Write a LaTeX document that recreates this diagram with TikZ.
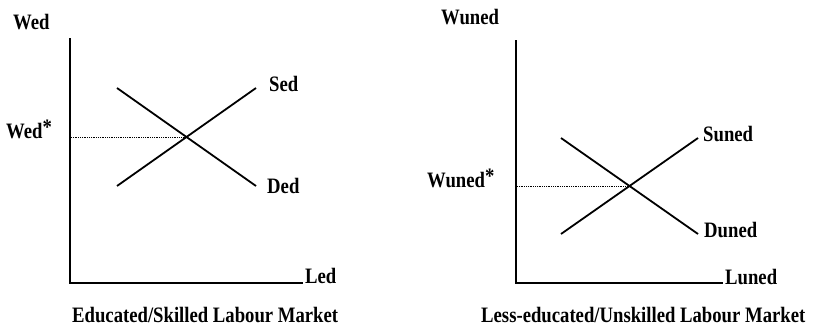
\documentclass[tikz,border=0pt]{standalone}
\usepackage{fontspec}
\setmainfont{Liberation Serif}
\newfontfamily\lblfont{Liberation Serif Bold}[FakeStretch=0.85]
\begin{document}
\begin{tikzpicture}[x=1pt,y=-1pt,
  lbl/.style={anchor=base west,inner sep=0pt,font=\lblfont\fontsize{22}{26}\selectfont},
  axisline/.style={line width=2pt,line cap=rect},
  curve/.style={line width=1.8pt},
  eqline/.style={line width=0.9pt,dash pattern=on 1pt off 0.8pt}]
\useasboundingbox (0,0) rectangle (820,331);
% ---------- left panel ----------
\coordinate (L0) at (70,283);
\coordinate (Ltop) at (70,39);
\coordinate (Lright) at (302,283);
\coordinate (LS1) at (117,186);
\coordinate (LS2) at (256,88);
\coordinate (LD1) at (117,88);
\coordinate (LD2) at (256,186);
\coordinate (LE) at (186.5,137);
\coordinate (LEy) at (71,137);
\draw[axisline] (Ltop) -- (L0) -- (Lright);
\draw[curve] (LS1) -- (LS2);
\draw[curve] (LD1) -- (LD2);
\draw[eqline] (LEy) -- (LE);
\node[lbl] (wed) at (13,30) {Wed};
\node[lbl] (wedstar) at (6,139) {Wed\raisebox{4pt}{*}};
\node[lbl] (sed) at (269,92) {Sed};
\node[lbl] (ded) at (267,194) {Ded};
\node[lbl] (led) at (305,284) {Led};
\node[lbl] (capL) at (72,323) {Educated/Skilled Labour Market};
% ---------- right panel ----------
\coordinate (R0) at (516,283);
\coordinate (Rtop) at (516,41);
\coordinate (Rright) at (722,283);
\coordinate (RS1) at (561,234);
\coordinate (RS2) at (698,138);
\coordinate (RD1) at (561,138);
\coordinate (RD2) at (698,234);
\coordinate (RE) at (629.5,186);
\coordinate (REy) at (517,186);
\draw[axisline] (Rtop) -- (R0) -- (Rright);
\draw[curve] (RS1) -- (RS2);
\draw[curve] (RD1) -- (RD2);
\draw[eqline] (REy) -- (RE);
\node[lbl] (wuned) at (441,25) {Wuned};
\node[lbl] (wunedstar) at (427,188) {Wuned\raisebox{4pt}{*}};
\node[lbl] (suned) at (703,142) {Suned};
\node[lbl] (duned) at (704,238) {Duned};
\node[lbl] (luned) at (725,285) {Luned};
\node[lbl] (capR) at (481,323) {Less-educated/Unskilled Labour Market};
\end{tikzpicture}
\end{document}
